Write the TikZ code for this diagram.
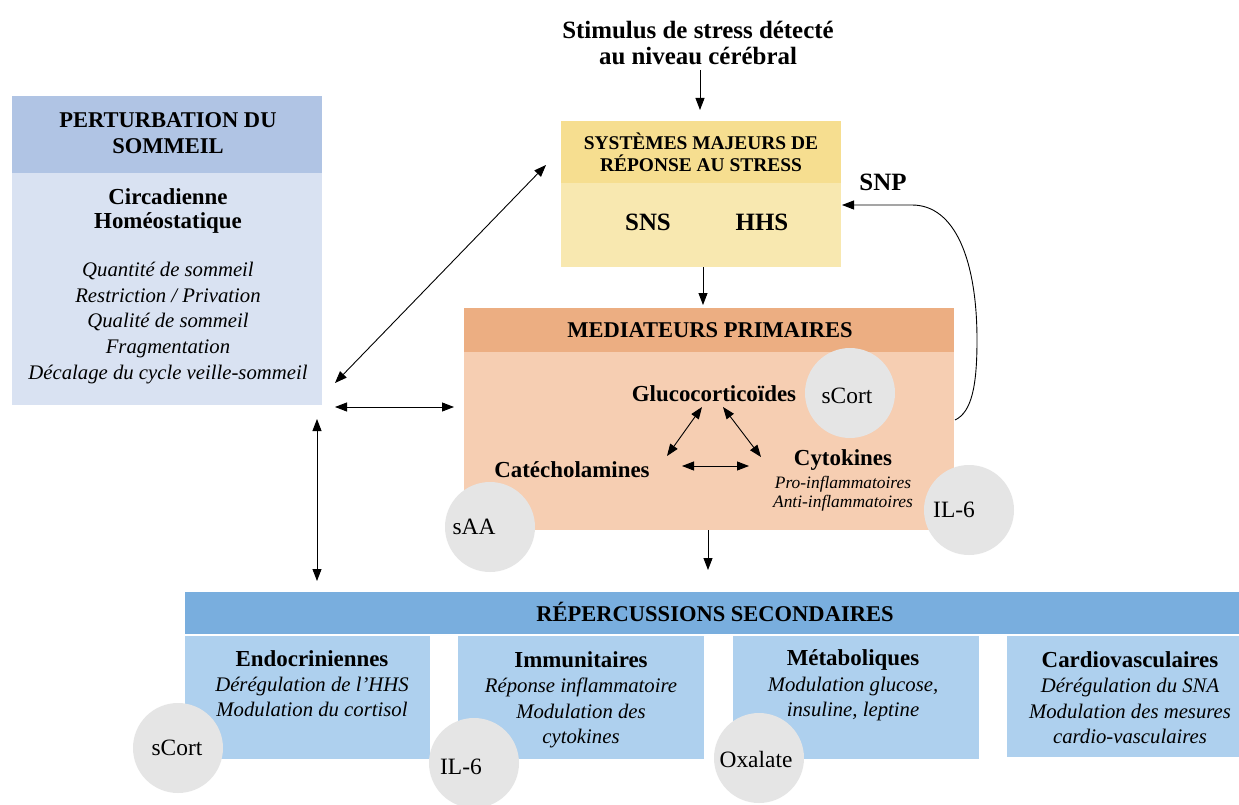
\documentclass[tikz,border=0pt]{standalone}
\usepackage{fontspec}
\setmainfont{Liberation Serif}
\usetikzlibrary{arrows.meta}
\definecolor{lbH}{HTML}{B0C4E4}
\definecolor{lbB}{HTML}{D9E2F2}
\definecolor{yeH}{HTML}{F6DE90}
\definecolor{yeB}{HTML}{F8E8B0}
\definecolor{orH}{HTML}{ECAE82}
\definecolor{orB}{HTML}{F6CEB2}
\definecolor{blH}{HTML}{79AEDE}
\definecolor{blB}{HTML}{AED0EE}
\definecolor{cgray}{HTML}{E5E5E5}
\begin{document}
\begin{tikzpicture}[x=1bp,y=-1bp,
  box/.style={inner sep=0, outer sep=0, anchor=north west, draw=none},
  circ/.style={circle, fill=cgray, minimum size=90bp, inner sep=0},
  tip/.tip={Triangle[length=12bp,width=9bp]},
  arr/.style={line width=0.9bp, -tip},
  darr/.style={line width=0.9bp, tip-tip},
  tstim/.style={font=\fontsize{25}{27}\selectfont\bfseries, align=center, inner sep=0},
  tcap/.style={font=\fontsize{22.6}{26}\selectfont\bfseries, align=center, inner sep=0},
  tcaps/.style={font=\fontsize{19.5}{22}\selectfont\bfseries, align=center, inner sep=0},
  tbig/.style={font=\fontsize{25}{27}\selectfont\bfseries, align=center, inner sep=0},
  tb/.style={font=\fontsize{23}{25}\selectfont\bfseries, align=center, inner sep=0},
  ti/.style={font=\fontsize{20.8}{25.5}\selectfont\itshape, align=center, inner sep=0},
  til/.style={font=\fontsize{20.8}{25.8}\selectfont\itshape, align=center, inner sep=0},
  tis/.style={font=\fontsize{17.5}{19}\selectfont\itshape, align=center, inner sep=0},
  tc/.style={font=\fontsize{23.5}{25}\selectfont, inner sep=0},
]
\useasboundingbox (0,0) rectangle (1239,805);
\fill[white] (0,0) rectangle (1239,805);

% ---- boxes
\node[box, fill=lbH, minimum width=310bp, minimum height=77bp] (pertH) at (12,96) {};
\node[box, fill=lbB, minimum width=310bp, minimum height=232bp] (pertB) at (12,173) {};
\node[box, fill=yeH, minimum width=280bp, minimum height=62bp] (sysH) at (561,121) {};
\node[box, fill=yeB, minimum width=280bp, minimum height=84bp] (sysB) at (561,183) {};
\node[box, fill=orH, minimum width=490bp, minimum height=44bp] (medH) at (464,308) {};
\node[box, fill=orB, minimum width=490bp, minimum height=178bp] (medB) at (464,352) {};
\node[box, fill=blH, minimum width=1054bp, minimum height=42bp] (repH) at (185,592) {};
\node[box, fill=blB, minimum width=245bp, minimum height=123bp] (endo) at (185,636) {};
\node[box, fill=blB, minimum width=246bp, minimum height=123bp] (immu) at (458,636) {};
\node[box, fill=blB, minimum width=246bp, minimum height=123bp] (meta) at (733,636) {};
\node[box, fill=blB, minimum width=232bp, minimum height=121bp] (card) at (1007,636) {};

% ---- circles
\node[circ] (c1) at (850,393) {};
\node[circ] (c2) at (490,527) {};
\node[circ] (c3) at (969,510) {};
\node[circ] (c4) at (178,748) {};
\node[circ] (c5) at (474,763) {};
\node[circ] (c6) at (759,758) {};
\node[tc] (c1t) at (847,396) {sCort};
\node[tc] (c2t) at (474,527) {sAA};
\node[tc] (c3t) at (954,510) {IL-6};
\node[tc] (c4t) at (177,748) {sCort};
\node[tc] (c5t) at (461,767) {IL-6};
\node[tc] (c6t) at (756,759) {Oxalate};

% ---- texts
\node[tstim] (stim) at (698,43) {Stimulus de stress détecté\\au niveau cérébral};
\node[tcap] (pertT) at (168,133) {PERTURBATION DU\\SOMMEIL};
\node[tb] (circ) at (168,211) {Circadienne\\Homéostatique};
\node[til] (qual) at (168,323) {Quantité de sommeil\\Restriction / Privation\\Qualité de sommeil\\Fragmentation\\Décalage du cycle veille-sommeil};
\node[tcaps] (sysT) at (701,152) {SYSTÈMES MAJEURS DE\\RÉPONSE AU STRESS};
\node[tbig] (sns) at (648,222) {SNS};
\node[tbig] (hhs) at (762,222) {HHS};
\node[tbig] (snp) at (883,182) {SNP};
\node[tcap] (medT) at (710,330) {MEDIATEURS PRIMAIRES};
\node[tb] (gluc) at (714,394) {Glucocorticoïdes};
\node[tb] (cate) at (572,470) {Catécholamines};
\node[tb] (cyto) at (843,460) {Cytokines};
\node[tis] (proi) at (843,494) {Pro-inflammatoires\\Anti-inflammatoires};
\node[tcap] (repT) at (715,612) {RÉPERCUSSIONS SECONDAIRES};
\node[tb] (endoT) at (312,659) {Endocriniennes};
\node[ti] (endoI) at (312,697) {Dérégulation de l’HHS\\Modulation du cortisol};
\node[tb] (immuT) at (581,660) {Immunitaires};
\node[ti] (immuI) at (581,713) {Réponse inflammatoire\\Modulation des\\cytokines};
\node[tb] (metaT) at (853,660) {Métaboliques};
\node[ti] (metaI) at (853,699) {Modulation glucose,\\insuline, leptine};
\node[tb] (cardT) at (1130,660) {Cardiovasculaires};
\node[ti] (cardI) at (1130,711) {Dérégulation du SNA\\Modulation des mesures\\cardio-vasculaires};

% ---- connector end points
\coordinate (a1s) at (700,70);  \coordinate (a1e) at (700,110);
\coordinate (a2s) at (703,267); \coordinate (a2e) at (703,305);
\coordinate (a3s) at (708,530); \coordinate (a3e) at (708,570);
\coordinate (d1a) at (335,383); \coordinate (d1b) at (546,165);
\coordinate (d2a) at (335,407); \coordinate (d2b) at (454,407);
\coordinate (d3a) at (317,419); \coordinate (d3b) at (317,581);
\coordinate (g1a) at (702,407); \coordinate (g1b) at (667,456);
\coordinate (g2a) at (723,407); \coordinate (g2b) at (761,457);
\coordinate (g3a) at (682,466); \coordinate (g3b) at (749,466);
\coordinate (fbs) at (955,420); \coordinate (fbk) at (977,340);
\coordinate (fbm) at (912,205); \coordinate (fbe) at (842,205);

% ---- connectors
\draw[arr] (a1s) -- (a1e);
\draw[arr] (a2s) -- (a2e);
\draw[arr] (a3s) -- (a3e);
\draw[darr] (d1a) -- (d1b);
\draw[darr] (d2a) -- (d2b);
\draw[darr] (d3a) -- (d3b);
\draw[darr] (g1a) -- (g1b);
\draw[darr] (g2a) -- (g2b);
\draw[darr] (g3a) -- (g3b);
\draw[arr] (fbs) .. controls (972,412) and (977,385) .. (fbk) .. controls (977,260) and (955,205) .. (fbm) -- (fbe);
\end{tikzpicture}
\end{document}
